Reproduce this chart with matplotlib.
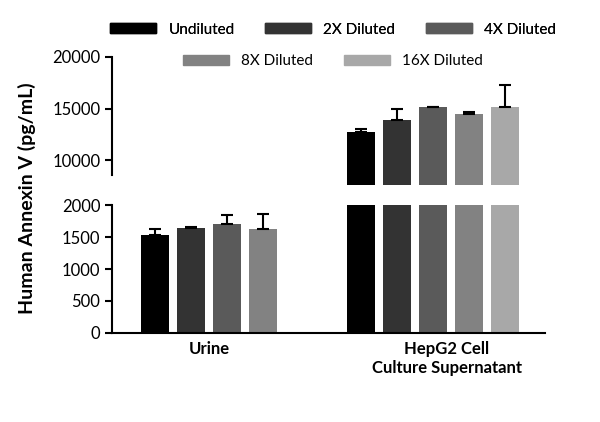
import matplotlib
matplotlib.use("Agg")
import matplotlib.pyplot as plt
from matplotlib.patches import Patch

series = ["Undiluted", "2X Diluted", "4X Diluted", "8X Diluted", "16X Diluted"]
colors = ["#000000", "#333333", "#5a5a5a", "#828282", "#a8a8a8"]
urine_vals = [1540, 1640, 1700, 1630]
urine_err = [80, 20, 140, 230]
hep_vals = [12700, 13900, 15100, 14500, 15100]
hep_err = [300, 1100, 80, 150, 2200]
groups = ["Urine", "HepG2 Cell\nCulture Supernatant"]

plt.rcParams["font.family"] = "Lato"
fig = plt.figure(figsize=(6, 4.22), dpi=100)
axl = fig.add_axes([0.187, 0.211, 0.721, 0.303])
axu = fig.add_axes([0.187, 0.562, 0.721, 0.303])

ux = [1.2 + i for i in range(len(urine_vals))]
hx = [6.93 + i for i in range(len(hep_vals))]
w = 0.78
for ax in (axl, axu):
    for i, v in enumerate(urine_vals):
        ax.bar(ux[i], v, w, color=colors[i], yerr=[[0], [urine_err[i]]],
               capsize=4, error_kw=dict(ecolor="black", lw=1.5, capthick=1.5))
    for i, v in enumerate(hep_vals):
        ax.bar(hx[i], v, w, color=colors[i], yerr=[[0], [hep_err[i]]],
               capsize=4, error_kw=dict(ecolor="black", lw=1.5, capthick=1.5))
    ax.set_xlim(0, 12.03)
    for s in ("top", "right"):
        ax.spines[s].set_visible(False)
    ax.spines["left"].set_linewidth(1.5)
    ax.tick_params(axis="y", width=1.5, length=5, labelsize=12)

axl.set_ylim(0, 2000)
axl.set_yticks([0, 500, 1000, 1500, 2000])
axl.spines["bottom"].set_linewidth(1.5)
axl.set_xticks([2.7, 9.3])
axl.set_xticklabels(groups, fontsize=12, fontweight="bold")
axl.tick_params(axis="x", length=0, pad=6)

axu.set_ylim(7600, 20000)
axu.set_yticks([10000, 15000, 20000])
axu.spines["bottom"].set_visible(False)
axu.set_xticks([])
axu.spines["left"].set_bounds(8600, 20000)

fig.text(0.045, 0.53, "Human Annexin V (pg/mL)", rotation=90, va="center", ha="center",
         fontsize=14, fontweight="bold")

h = [Patch(color=c) for c in colors]
l1 = fig.legend(h[:3], series[:3], loc="center", bbox_to_anchor=(0.555, 0.93), ncol=3,
                frameon=False, fontsize=11, handlelength=3, handleheight=0.6, columnspacing=2)
fig.add_artist(l1)
fig.legend(h[3:], series[3:], loc="center", bbox_to_anchor=(0.555, 0.855), ncol=2,
           frameon=False, fontsize=11, handlelength=3, handleheight=0.6, columnspacing=2)
fig.savefig("out.png", dpi=100)
